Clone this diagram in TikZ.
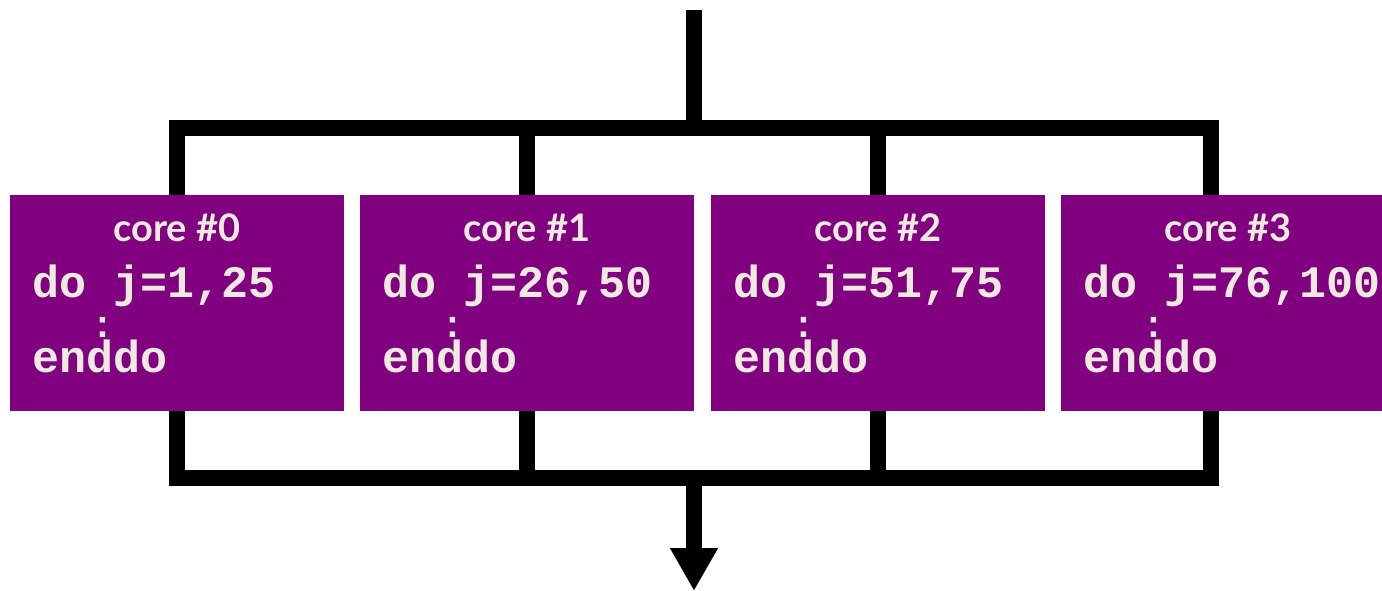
\documentclass[tikz,border=0pt]{standalone}
\usepackage{fontspec}
\setmainfont{Lato}
\newfontfamily\codefont{Liberation Mono}
\usetikzlibrary{arrows.meta}
\definecolor{boxpurple}{HTML}{800080}
\definecolor{cream}{HTML}{EEEAE0}
\begin{document}
\begin{tikzpicture}[x=1pt,y=-1pt,
  corebox/.style={fill=boxpurple, draw=none, minimum width=334pt, minimum height=216pt, inner sep=0pt, anchor=north west},
  bus/.style={line width=15.5pt, black},
  title/.style={text=cream, font=\fontsize{38}{38}\selectfont\bfseries, anchor=base, inner sep=0pt},
  code/.style={text=cream, font=\codefont\bfseries\fontsize{45}{45}\selectfont, anchor=base west, inner sep=0pt},
  dots/.style={text=cream, font=\codefont\bfseries\fontsize{38}{38}\selectfont, anchor=center, inner sep=0pt}]
\useasboundingbox (0,0) rectangle (1382,591);
\fill[white] (0,0) rectangle (1382,591);
% coordinates
\coordinate (in) at (694,10);
\coordinate (tb) at (694,128);
\coordinate (bb) at (694,478);
\coordinate (out) at (694,591);
\coordinate (s3t) at (1211,195);
\coordinate (s3b) at (1211,411);
% boxes
\node[corebox] (box0) at (10,195) {};
\node[corebox] (box1) at (360,195) {};
\node[corebox] (box2) at (711,195) {};
\node[corebox] (box3) at (1061,195) {};
% connectors
\draw[bus] (in) -- (tb);
\draw[bus] (box0.north) |- (tb) -| (s3t);
\draw[bus] (box1.north) -- (box1.north |- tb);
\draw[bus] (box2.north) -- (box2.north |- tb);
\draw[bus] (box0.south) |- (bb) -| (s3b);
\draw[bus] (box1.south) -- (box1.south |- bb);
\draw[bus] (box2.south) -- (box2.south |- bb);
\draw[bus, -{Triangle[length=43pt, width=45pt]}] (bb) -- (out);
% texts
\node[title] (t0) at (177,241) {core \#0};
\node[title] (t1) at (527,241) {core \#1};
\node[title] (t2) at (878,241) {core \#2};
\node[title] (t3) at (1228,241) {core \#3};
\node[code] (d0) at (32,297) {do j=1,25};
\node[code] (d1) at (382,297) {do j=26,50};
\node[code] (d2) at (733,297) {do j=51,75};
\node[code] (d3) at (1083,297) {do j=76,100};
\node[dots] (c0) at (103,327) {:};
\node[dots] (c1) at (453,327) {:};
\node[dots] (c2) at (804,327) {:};
\node[dots] (c3) at (1154,327) {:};
\node[code] (e0) at (32,372) {enddo};
\node[code] (e1) at (382,372) {enddo};
\node[code] (e2) at (733,372) {enddo};
\node[code] (e3) at (1083,372) {enddo};
\end{tikzpicture}
\end{document}
